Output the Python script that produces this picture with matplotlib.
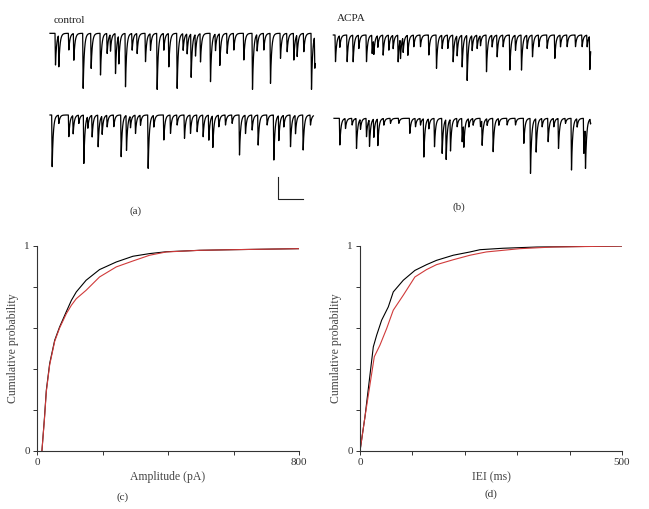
import matplotlib

matplotlib.use("Agg")
import matplotlib.pyplot as plt
import numpy as np

plt.rcParams["font.family"] = ["Liberation Serif", "DejaVu Serif"]

ctrl1_t = [165, 175, 205, 220, 248, 272, 300, 320, 330, 345, 355, 375, 395, 410, 435, 450,
           470, 490, 505, 530, 548, 560, 572, 585, 600, 630, 645, 658, 680, 700, 730, 756,
           770, 790, 810, 840, 860, 880, 890, 910, 933, 943]
ctrl1_a = [95, 95, 50, 80, 165, 105, 125, 60, 50, 120, 85, 160, 50, 60, 85, 50,
           168, 50, 100, 165, 50, 60, 130, 65, 85, 145, 50, 95, 60, 50, 80, 168,
           50, 50, 150, 75, 55, 80, 65, 55, 168, 95]

ctrl2_t = [155, 175, 205, 218, 235, 250, 262, 275, 293, 305, 320, 340, 362, 378, 390, 405,
           420, 443, 460, 490, 510, 530, 552, 570, 590, 608, 625, 637, 655, 675, 695, 717,
           735, 755, 773, 800, 820, 835, 850, 870, 885, 908, 930]
ctrl2_a = [155, 25, 65, 55, 25, 145, 35, 65, 95, 55, 35, 35, 125, 105, 35, 55,
           30, 160, 35, 75, 55, 30, 70, 55, 50, 65, 75, 95, 35, 30, 25, 120,
           55, 45, 90, 30, 135, 75, 35, 95, 55, 105, 30]

acpa1_t = [45, 58, 80, 98, 115, 138, 155, 160, 172, 188, 205, 218, 233, 240, 248, 262,
           280, 300, 325, 348, 365, 382, 398, 410, 425, 440, 455, 470, 480, 498, 515, 530,
           548, 568, 585, 603, 620, 636, 655, 680, 703, 720, 740, 765, 785, 800, 808]
acpa1_a = [80, 35, 80, 80, 40, 80, 55, 45, 35, 60, 45, 40, 80, 60, 45, 60,
           35, 35, 60, 100, 40, 40, 80, 60, 95, 135, 45, 40, 30, 110, 35, 65,
           35, 105, 45, 105, 40, 65, 35, 40, 70, 35, 35, 35, 35, 35, 100]

acpa2_t = [58, 75, 95, 108, 120, 138, 147, 160, 172, 190, 210, 235, 268, 285, 300, 310,
           325, 342, 365, 377, 390, 410, 425, 430, 445, 458, 480, 485, 500, 518, 535, 560,
           585, 610, 630, 647, 665, 683, 700, 714, 735, 753, 770, 790, 795, 810]
acpa2_a = [80, 30, 20, 90, 30, 55, 80, 55, 80, 20, 15, 15, 45, 25, 20, 115,
           30, 85, 105, 120, 95, 25, 70, 70, 25, 20, 25, 75, 20, 100, 20, 20,
           20, 75, 165, 100, 25, 70, 25, 90, 15, 155, 25, 105, 125, 15]

# distribuicoes cumulativas
amp_x_ctrl = [15, 23, 28.5, 38.7, 54, 69, 89.6, 105, 120, 150, 191, 242, 293, 344, 395, 497, 598, 800]
amp_p_ctrl = [0, 0.167, 0.297, 0.427, 0.54, 0.605, 0.68, 0.735, 0.776, 0.833, 0.885, 0.922,
              0.95, 0.963, 0.972, 0.979, 0.982, 0.987]
amp_x_acpa = [15, 23, 28.5, 38.7, 54, 69, 89.6, 105, 120, 150, 191, 242, 293, 344, 395, 497, 598, 800]
amp_p_acpa = [0, 0.16, 0.29, 0.42, 0.535, 0.6, 0.67, 0.711, 0.743, 0.784, 0.849, 0.898,
              0.927, 0.955, 0.971, 0.979, 0.982, 0.987]

iei_x_ctrl = [0, 9.5, 25.4, 31.8, 41.3, 54, 63.5, 82.6, 104.8, 127, 146, 178, 210, 229, 273, 337, 500]
iei_p_ctrl = [0, 0.167, 0.508, 0.565, 0.638, 0.703, 0.776, 0.833, 0.881, 0.909, 0.93, 0.955,
              0.971, 0.982, 0.989, 0.995, 1.0]
iei_x_acpa = [0, 9.5, 27.3, 38, 50.8, 63.5, 82.6, 104.8, 127, 146, 178, 210, 241, 273, 305, 368, 500]
iei_p_acpa = [0, 0.167, 0.46, 0.516, 0.597, 0.687, 0.76, 0.849, 0.885, 0.909, 0.933, 0.955,
              0.971, 0.979, 0.987, 0.995, 1.0]


def monta_traco(t_ini, t_fim, base, tempos, amps):
    t = np.arange(t_ini, t_fim + 0.5, 0.5)
    y = np.full_like(t, float(base))
    for t0, a in zip(tempos, amps):
        dt = t - t0
        subida = (dt >= 0) & (dt < 1.5)
        y[subida] += a * dt[subida] / 1.5
        decai = dt >= 1.5
        y[decai] += a * np.exp(-(dt[decai] - 1.5) / 3.5)
    return t, y


fig = plt.figure(figsize=(6.49, 5.09), dpi=100)

ax_a = fig.add_axes([0, 1 - 220 / 509, 330 / 649, 220 / 509])
ax_b = fig.add_axes([320 / 649, 1 - 220 / 509, 329 / 649, 220 / 509])
for ax, w in [(ax_a, 990), (ax_b, 987)]:
    ax.set_xlim(0, w)
    ax.set_ylim(660, 0)
    ax.axis("off")
    ax.patch.set_alpha(0)

for ax, (t_ini, t_fim, base, tt, aa) in [
    (ax_a, (150, 945, 100, ctrl1_t, ctrl1_a)),
    (ax_a, (150, 940, 345, ctrl2_t, ctrl2_a)),
    (ax_b, (40, 812, 105, acpa1_t, acpa1_a)),
    (ax_b, (42, 812, 355, acpa2_t, acpa2_a)),
]:
    t, y = monta_traco(t_ini, t_fim, base, tt, aa)
    ax.plot(t, y, color="black", linewidth=0.9)

# barra de escala
barra_t, barra_a = 75, 68
ax_a.plot([835, 835, 835 + barra_t], [598 - barra_a, 598, 598], color="#222222", linewidth=0.8)

ax_a.text(160, 62, "control", fontsize=8, va="center", ha="left", color="#222222")
ax_b.text(50, 55, "ACPA", fontsize=8, va="center", ha="left", color="#222222")
fig.text(136 / 649, 1 - 211 / 509, "(a)", fontsize=8, ha="center", va="center", color="#333333")
fig.text(459 / 649, 1 - 207 / 509, "(b)", fontsize=8, ha="center", va="center", color="#333333")

ax_c = fig.add_axes([37 / 649, 1 - 451 / 509, 262 / 649, 205 / 509])
ax_d = fig.add_axes([360 / 649, 1 - 451 / 509, 262 / 649, 205 / 509])

ax_c.plot(amp_x_ctrl, amp_p_ctrl, color="black", linewidth=0.8)
ax_c.plot(amp_x_acpa, amp_p_acpa, color="#d03a3a", linewidth=0.8)
ax_d.plot(iei_x_ctrl, iei_p_ctrl, color="black", linewidth=0.8)
ax_d.plot(iei_x_acpa, iei_p_acpa, color="#d03a3a", linewidth=0.8)

for ax, xmax, passo, xlabel in [(ax_c, 800, 200, "Amplitude (pA)"), (ax_d, 500, 100, "IEI (ms)")]:
    ax.set_xlim(0, xmax)
    ax.set_ylim(0, 1)
    ax.spines["top"].set_visible(False)
    ax.spines["right"].set_visible(False)
    for s in ["left", "bottom"]:
        ax.spines[s].set_linewidth(0.8)
        ax.spines[s].set_color("#333333")
    xt = np.arange(0, xmax + 1, passo)
    ax.set_xticks(xt)
    ax.set_xticklabels(["0"] + [""] * (len(xt) - 2) + [str(xmax)])
    ax.set_yticks(np.linspace(0, 1, 6))
    ax.set_yticklabels(["0", "", "", "", "", "1"])
    ax.tick_params(direction="out", length=3, width=0.7, labelsize=8, pad=2,
                   color="#333333", labelcolor="#333333")
    ax.set_xlabel(xlabel, fontsize=8.5, labelpad=3, color="#444444")
    ax.set_ylabel("Cumulative probability", fontsize=8.5, labelpad=4, color="#444444")

fig.text(123 / 649, 1 - 497 / 509, "(c)", fontsize=8, ha="center", va="center", color="#333333")
fig.text(491 / 649, 1 - 494 / 509, "(d)", fontsize=8, ha="center", va="center", color="#333333")

fig.savefig("out.png", dpi=100)
